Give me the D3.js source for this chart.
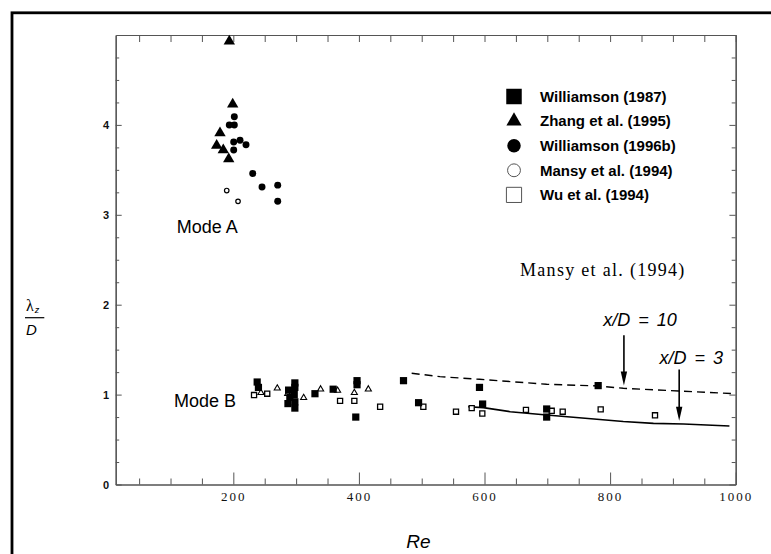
<!DOCTYPE html>
<html>
<head>
<meta charset="utf-8">
<script src="https://cdn.jsdelivr.net/npm/d3@7"></script>
<style>
  body { margin: 0; background: #fff; }
  svg { display: block; }
</style>
</head>
<body>
<svg id="chart" width="771" height="554"></svg>
<script>
// axis ticks
const reTicks = d3.range(50, 1001, 50);
const reLabelTicks = [200, 400, 600, 800, 1000];
const lambdaTicks = d3.range(0, 5.001, 0.25);
const lambdaLabelTicks = [0, 1, 2, 3, 4];

// points, [Re, lambda_z / D]
const williamson1987 = [
  [238, 1.14], [240, 1.08], [288, 1.05], [290, 0.97], [287, 0.90],
  [298, 1.13], [298, 1.08], [297, 1.00], [298, 0.92], [298, 0.85],
  [330, 1.01], [359, 1.06], [397, 1.155], [397, 1.11], [395, 0.75],
  [471, 1.155], [495, 0.91], [592, 1.08], [597, 0.895], [699, 0.84],
  [699, 0.75], [781, 1.10]
];
const zhang1995 = [
  [193.6, 4.93], [199, 4.23], [178.8, 3.91], [173.5, 3.77], [184, 3.72], [192.7, 3.62]
];
const zhang1995ModeB = [
  [244, 1.02], [270, 1.07], [286.6, 1.01], [312, 0.965], [339, 1.06],
  [366, 1.045], [392.7, 1.02], [415, 1.06]
];
const williamson1996b = [
  [201.6, 4.09], [193.6, 4.00], [201.6, 4.00], [200.6, 3.81], [210.7, 3.83],
  [220.2, 3.78], [200.6, 3.72], [230.9, 3.46], [245.7, 3.31], [270.7, 3.33], [270.7, 3.15]
];
const mansy1994 = [[189.5, 3.27], [207.5, 3.15]];
const wu1994 = [
  [233, 0.995], [254, 1.01], [370, 0.93], [392.7, 0.93], [433.8, 0.865],
  [502.6, 0.865], [554.6, 0.81], [579.6, 0.85], [596.5, 0.79], [666, 0.83],
  [707, 0.82], [724.5, 0.81], [785, 0.836], [871.5, 0.77]
];

// Mansy et al. (1994) curves
const mansyXD10 = [
  [484, 1.237], [529, 1.20], [592, 1.17], [699, 1.115], [781, 1.096],
  [821, 1.07], [909, 1.04], [1000, 1.01]
];
const mansyXD3 = [
  [574, 0.865], [598, 0.855], [641, 0.81], [699, 0.773], [779, 0.725],
  [821, 0.70], [869, 0.68], [917, 0.673], [990, 0.65]
];

// arrows: Re, start, tip
const arrowNames = ["x/D = 10", "x/D = 3"];
const arrowRe = [822, 910];
const arrowFrom = [1.66, 1.28];
const arrowTo = [1.10, 0.71];

const legendNames = [
  "Williamson (1987)", "Zhang et al. (1995)", "Williamson (1996b)",
  "Mansy et al. (1994)", "Wu et al. (1994)"
];

const svg = d3.select("#chart");
const sans = "'Liberation Sans', Arial, sans-serif";
const serif = "'Liberation Serif', 'Times New Roman', serif";

const x = d3.scaleLinear().domain([12.7, 1000]).range([115.7, 735.7]);
const y = d3.scaleLinear().domain([0, 5]).range([484.5, 35]);

// outer frame
svg.append("rect")
  .attr("x", 12).attr("y", 12.8)
  .attr("width", 800).attr("height", 600)
  .attr("fill", "none").attr("stroke", "#000").attr("stroke-width", 2.8);

// axes
const axisColor = "#555";
function styleAxis(g) {
  g.attr("color", axisColor);
  g.select(".domain").attr("stroke-width", 1.2);
}

svg.append("g")
  .attr("transform", "translate(0," + y(0) + ")")
  .call(d3.axisBottom(x).tickValues(reTicks.filter(d => d % 200 !== 0))
    .tickSize(-6).tickSizeOuter(0).tickFormat(""))
  .call(styleAxis);
const bottom = svg.append("g")
  .attr("transform", "translate(0," + y(0) + ")")
  .call(d3.axisBottom(x).tickValues(reLabelTicks)
    .tickSize(-12).tickSizeOuter(0).tickPadding(7.6).tickFormat(d3.format("d")))
  .call(styleAxis);
bottom.selectAll("text")
  .attr("fill", "#111")
  .style("font-family", serif).style("font-size", "13px")
  .style("letter-spacing", "2px");

svg.append("g")
  .attr("transform", "translate(0," + y(5) + ")")
  .call(d3.axisTop(x).tickValues(reTicks).tickSize(-7).tickSizeOuter(0).tickFormat(""))
  .call(styleAxis);

svg.append("g")
  .attr("transform", "translate(" + x.range()[0] + ",0)")
  .call(d3.axisLeft(y).tickValues(lambdaTicks.filter(d => d % 1 !== 0))
    .tickSize(-3.5).tickSizeOuter(0).tickFormat(""))
  .call(styleAxis);
const left = svg.append("g")
  .attr("transform", "translate(" + x.range()[0] + ",0)")
  .call(d3.axisLeft(y).tickValues(lambdaLabelTicks)
    .tickSize(-6).tickSizeOuter(0).tickPadding(6.5).tickFormat(d3.format("d")))
  .call(styleAxis);
left.selectAll("text")
  .attr("fill", "#111")
  .style("font-family", sans).style("font-size", "11px").style("font-weight", "bold");

svg.append("g")
  .attr("transform", "translate(" + x.range()[1] + ",0)")
  .call(d3.axisRight(y).tickValues(lambdaTicks.filter(d => d % 1 !== 0))
    .tickSize(-4).tickSizeOuter(0).tickFormat(""))
  .call(styleAxis);
svg.append("g")
  .attr("transform", "translate(" + x.range()[1] + ",0)")
  .call(d3.axisRight(y).tickValues(lambdaLabelTicks)
    .tickSize(-6.3).tickSizeOuter(0).tickFormat(""))
  .call(styleAxis);

// axis titles
svg.append("text")
  .attr("x", 418.5).attr("y", 548)
  .attr("text-anchor", "middle")
  .style("font-family", sans).style("font-size", "19px").style("font-style", "italic")
  .text("Re");

const ylab = svg.append("g");
const lam = ylab.append("text")
  .attr("x", 26).attr("y", 310.5)
  .style("font-family", serif).style("font-size", "16px");
lam.append("tspan").text("λ");
lam.append("tspan")
  .attr("dx", 1).attr("dy", 2)
  .style("font-family", sans).style("font-size", "9px").style("font-style", "italic")
  .text("z");
ylab.append("line")
  .attr("x1", 25).attr("x2", 44.3).attr("y1", 317.7).attr("y2", 317.7)
  .attr("stroke", "#000").attr("stroke-width", 1.2);
ylab.append("text")
  .attr("x", 31.5).attr("y", 335)
  .attr("text-anchor", "middle")
  .style("font-family", sans).style("font-size", "15px").style("font-style", "italic")
  .text("D");

// curves
const line = d3.line().x(d => x(d[0])).y(d => y(d[1]));
svg.append("path")
  .attr("d", line(mansyXD10))
  .attr("fill", "none").attr("stroke", "#000").attr("stroke-width", 1.4)
  .attr("stroke-dasharray", "8,5");
svg.append("path")
  .attr("d", line(mansyXD3))
  .attr("fill", "none").attr("stroke", "#000").attr("stroke-width", 1.6);

// points
function drawPoints(data, type, size, filled, sw) {
  svg.append("g").selectAll("path")
    .data(data).enter().append("path")
    .attr("transform", d => "translate(" + x(d[0]) + "," + y(d[1]) + ")")
    .attr("d", d3.symbol().type(type).size(size))
    .attr("fill", filled ? "#000" : "#fff")
    .attr("stroke", "#000")
    .attr("stroke-width", filled ? 0 : sw);
}
drawPoints(wu1994, d3.symbolSquare, 26, false, 1.3);
drawPoints(zhang1995ModeB, d3.symbolTriangle, 16, false, 1.1);
drawPoints(williamson1987, d3.symbolSquare, 52, true);
drawPoints(williamson1996b, d3.symbolCircle, 38, true);
drawPoints(zhang1995, d3.symbolTriangle, 56, true);
drawPoints(mansy1994, d3.symbolCircle, 16, false, 1.2);

// arrows with labels
arrowNames.forEach((name, i) => {
  const ax = x(arrowRe[i]);
  const y0 = y(arrowFrom[i]);
  const y1 = y(arrowTo[i]);
  svg.append("line")
    .attr("x1", ax).attr("x2", ax).attr("y1", y0).attr("y2", y1 - 10)
    .attr("stroke", "#000").attr("stroke-width", 1.6);
  svg.append("path")
    .attr("d", "M" + (ax - 3.2) + "," + (y1 - 14) + "L" + (ax + 3.2) + "," + (y1 - 14) + "L" + ax + "," + y1 + "Z")
    .attr("fill", "#000");
  svg.append("text")
    .attr("x", ax + (i === 0 ? 16 : 12)).attr("y", y0 - (i === 0 ? 9 : 5.3))
    .attr("text-anchor", "middle")
    .style("font-family", sans).style("font-size", "18px").style("font-style", "italic")
    .style("word-spacing", "3px")
    .text(name);
});

// annotations
svg.append("text")
  .attr("x", x(110)).attr("y", y(2.8))
  .style("font-family", sans).style("font-size", "18px")
  .text("Mode A");
svg.append("text")
  .attr("x", x(105.6)).attr("y", y(0.865))
  .style("font-family", sans).style("font-size", "18px")
  .text("Mode B");
svg.append("text")
  .attr("x", 520).attr("y", 276)
  .style("font-family", serif).style("font-size", "18px")
  .style("letter-spacing", "1.3px")
  .text("Mansy et al. (1994)");

// legend
const legendSymbols = [
  { type: d3.symbolSquare, size: 240, filled: true },
  { type: d3.symbolTriangle, size: 100, filled: true },
  { type: d3.symbolCircle, size: 143, filled: true },
  { type: d3.symbolCircle, size: 130, filled: false },
  { type: d3.symbolSquare, size: 230, filled: false }
];
const legend = svg.append("g");
legendNames.forEach((name, i) => {
  const ly = 96.5 + i * 24.6;
  const s = legendSymbols[i];
  legend.append("path")
    .attr("transform", "translate(514," + ly + ")")
    .attr("d", d3.symbol().type(s.type).size(s.size))
    .attr("fill", s.filled ? "#000" : "#fff")
    .attr("stroke", s.filled ? "none" : "#555")
    .attr("stroke-width", 1);
  legend.append("text")
    .attr("x", 540).attr("y", ly + 5.2)
    .style("font-family", sans).style("font-size", "15px").style("font-weight", "bold")
    .text(name);
});
</script>
</body>
</html>
